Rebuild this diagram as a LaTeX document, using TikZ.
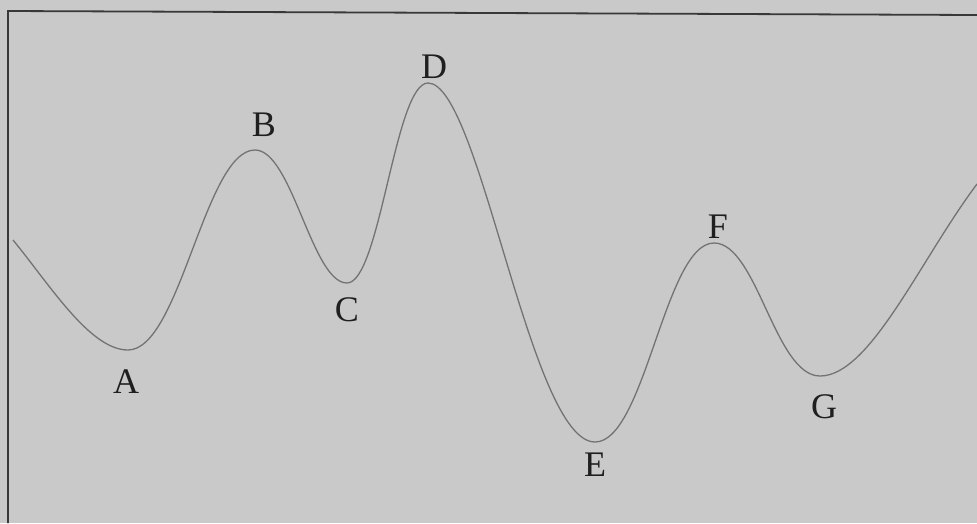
\documentclass[tikz,border=0pt]{standalone}
\usepackage{fontspec}
\setmainfont{Liberation Serif}
\begin{document}
\begin{tikzpicture}[x=1pt,y=-1pt,
  lbl/.style={font=\fontsize{36}{40}\selectfont, text=black!88, inner sep=0pt},
  wave/.style={draw=black!55, line width=1.3pt},
  frame/.style={draw=black!78, line width=1.8pt}]
\fill[black!21] (0,0) rectangle (977,523);
\useasboundingbox (0,0) rectangle (977,523);
% frame
\coordinate (f1) at (8,523);
\coordinate (f2) at (8,11);
\coordinate (f3) at (977,15);
\draw[frame] (f1) -- (f2) -- (f3);
% extrema
\coordinate (S) at (13,240);
\coordinate (A) at (128,350);
\coordinate (B) at (255,150);
\coordinate (C) at (347,283);
\coordinate (D) at (428,83);
\coordinate (E) at (595,442);
\coordinate (F) at (714,243);
\coordinate (G) at (820,376);
\coordinate (T) at (977,184);
\draw[wave] (S) .. controls (50,285) and (90,350) .. (A)
  .. controls (180,350) and (205,150) .. (B)
  .. controls (292,150) and (312,283) .. (C)
  .. controls (380,283) and (395,83) .. (D)
  .. controls (480,83) and (530,442) .. (E)
  .. controls (645,442) and (665,243) .. (F)
  .. controls (757,243) and (775,376) .. (G)
  .. controls (870,376) and (920,260) .. (T);
% labels
\node[lbl] (lA) at (126,382) {A};
\node[lbl] (lB) at (264,125) {B};
\node[lbl] (lC) at (347,310) {C};
\node[lbl] (lD) at (434,67) {D};
\node[lbl] (lE) at (595,465) {E};
\node[lbl] (lF) at (718,227) {F};
\node[lbl] (lG) at (824,407) {G};
\end{tikzpicture}
\end{document}
